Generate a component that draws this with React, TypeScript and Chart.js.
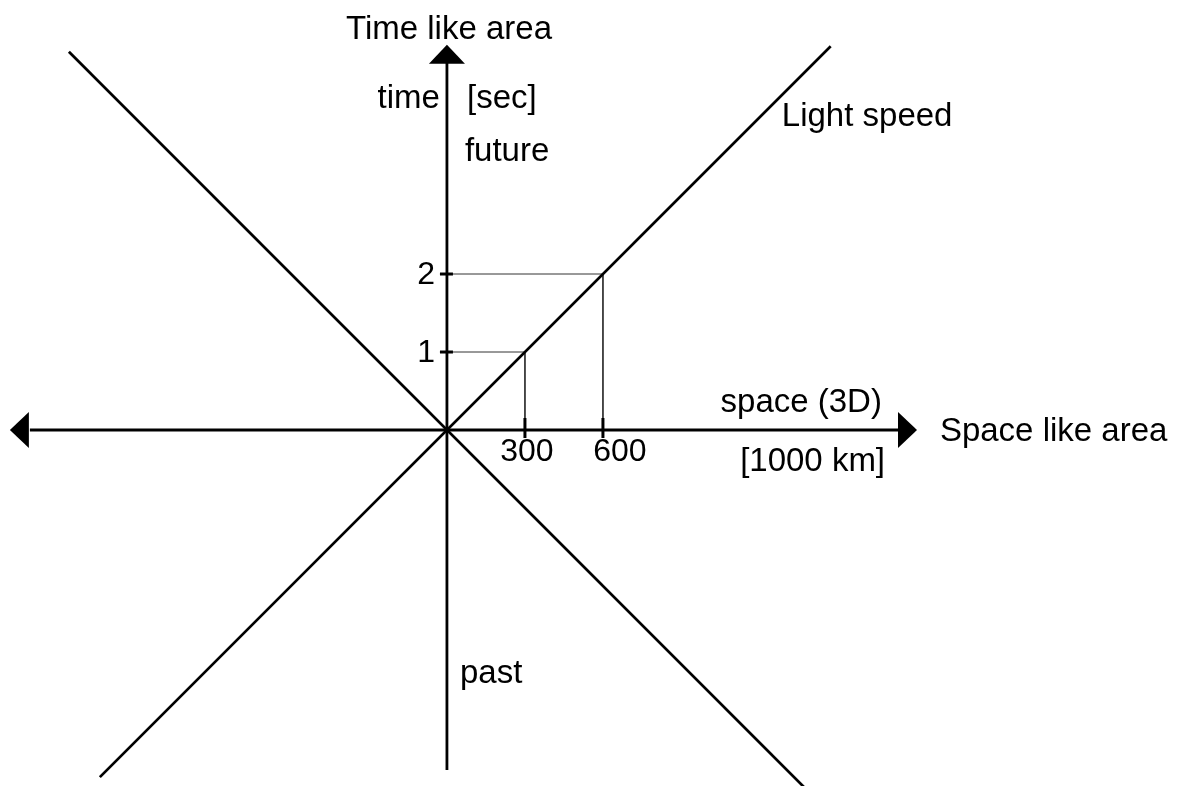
import React, { useEffect, useRef } from "react";
import { Chart, registerables } from "chart.js";

Chart.register(...registerables);

// ---- data (space in 1000 km, time in sec) ----
const lightLineX = [-1335, 1476];
const lightLineT = [-4.45, 4.92];
const otherLineX = [-1454, 1380];
const otherLineT = [4.85, -4.6];
const timeAxisT = [-4.36, 4.72];
const spaceAxisX = [-1604, 1735];
const timeTicks = [1, 2];
const spaceTicks = [300, 600];
const timeTickLabels = ["1", "2"];
const spaceTickLabels = ["300", "600"];

const arrowTipsX = [0, 1808, -1681];
const arrowTipsT = [4.94, 0, 0];

const noteTexts = ["Time like area", "time", "[sec]", "future", "Light speed", "space (3D)", "[1000 km]", "Space like area", "past"];
const noteX = [8, -27, 77, 69, 1288, 1673, 1685, 1896, 50];
const noteT = [5.13, 4.25, 4.25, 3.56, 4.01, 0.35, -0.41, -0.03, -3.13];
const noteAlign: CanvasTextAlign[] = ["center", "right", "left", "left", "left", "right", "right", "left", "left"];

const FONT = '33px "Liberation Sans", Arial, sans-serif';
const TICK_FONT = '32px "Liberation Sans", Arial, sans-serif';

const seg = (xs: number[], ys: number[]) => xs.map((x, i) => ({ x, y: ys[i] }));

export default function App() {
  const ref = useRef<HTMLCanvasElement | null>(null);

  useEffect(() => {
    if (!ref.current) return;
    const black = "#000000";
    const datasets: any[] = [
      { data: seg(lightLineX, lightLineT), borderColor: black, borderWidth: 2.7 },
      { data: seg(otherLineX, otherLineT), borderColor: black, borderWidth: 2.7 },
      { data: seg([0, 0], timeAxisT), borderColor: black, borderWidth: 2.8 },
      { data: seg(spaceAxisX, [0, 0]), borderColor: black, borderWidth: 2.8 },
    ];
    timeTicks.forEach((t, i) => {
      datasets.push({
        data: seg([0, spaceTicks[i], spaceTicks[i]], [t, t, 0]),
        borderColor: "#333333",
        borderWidth: 1,
      });
    });
    datasets.forEach((d) => {
      d.showLine = true;
      d.pointRadius = 0;
      d.pointHoverRadius = 0;
      d.fill = false;
    });

    const decor = {
      id: "decor",
      afterDatasetsDraw(chart: any) {
        const { ctx, scales } = chart;
        const xs = scales.x;
        const ys = scales.y;
        const px = (v: number) => xs.getPixelForValue(v);
        const py = (v: number) => ys.getPixelForValue(v);
        ctx.save();
        const ox = px(0);
        const oy = py(0);
        // tick marks
        ctx.strokeStyle = "#000";
        ctx.lineWidth = 3;
        timeTicks.forEach((t) => {
          ctx.beginPath();
          ctx.moveTo(ox - 7, py(t));
          ctx.lineTo(ox + 6, py(t));
          ctx.stroke();
        });
        spaceTicks.forEach((s) => {
          ctx.beginPath();
          ctx.moveTo(px(s), oy - 12);
          ctx.lineTo(px(s), oy + 8);
          ctx.stroke();
        });
        // arrowheads
        ctx.fillStyle = "#000";
        arrowTipsX.forEach((ax, i) => {
          const tx = px(ax);
          const ty = py(arrowTipsT[i]);
          let dx = 0;
          let dy = 0;
          if (arrowTipsT[i] !== 0) dy = -1;
          else dx = ax > 0 ? 1 : -1;
          const bx = tx - dx * 19;
          const by = ty - dy * 19;
          ctx.beginPath();
          ctx.moveTo(tx, ty);
          ctx.lineTo(bx + dy * 18, by - dx * 18);
          ctx.lineTo(bx - dy * 18, by + dx * 18);
          ctx.closePath();
          ctx.fill();
        });
        // texts
        ctx.font = FONT;
        ctx.textBaseline = "middle";
        ctx.fillStyle = "#000";
        noteTexts.forEach((txt, i) => {
          ctx.textAlign = noteAlign[i];
          ctx.fillText(txt, px(noteX[i]), py(noteT[i]));
        });
        ctx.font = TICK_FONT;
        ctx.textAlign = "right";
        timeTicks.forEach((t, i) => {
          ctx.fillText(timeTickLabels[i], ox - 12, py(t) + 1);
        });
        ctx.textAlign = "center";
        spaceTicks.forEach((s, i) => {
          ctx.fillText(spaceTickLabels[i], px(s) + (i === 0 ? 2 : 17), oy + 22);
        });
        ctx.restore();
      },
    };

    const chart = new Chart(ref.current, {
      type: "scatter",
      data: { datasets },
      options: {
        animation: false,
        responsive: false,
        events: [],
        layout: { padding: 0 },
        plugins: { legend: { display: false }, tooltip: { enabled: false } },
        scales: {
          x: { type: "linear", min: -1719, max: 2831, display: false },
          y: { type: "linear", min: -4.564, max: 5.513, display: false },
        },
      },
      plugins: [decor],
    });
    return () => chart.destroy();
  }, []);

  return (
    <div style={{ position: "fixed", left: 0, top: 0, width: 1183, height: 786, background: "#fff" }}>
      <canvas ref={ref} width={1183} height={786} style={{ display: "block" }} />
    </div>
  );
}
